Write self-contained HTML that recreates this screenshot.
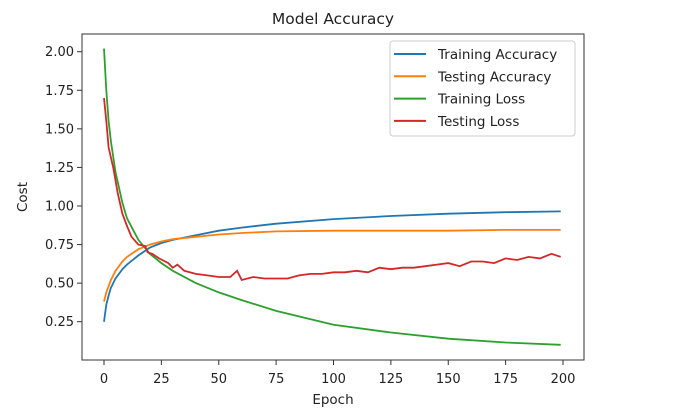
<!DOCTYPE html>
<html><head><meta charset="utf-8"><style>
html,body{margin:0;padding:0;background:#fff;}
svg{display:block;font-family:"DejaVu Sans","Liberation Sans",sans-serif;}
</style></head><body>
<svg id="chart" width="684" height="418" viewBox="0 0 684 418" xmlns="http://www.w3.org/2000/svg">
<text x="333" y="24" text-anchor="middle" font-size="15.5" fill="#222">Model Accuracy</text>
<g id="plot"></g>
<rect x="82" y="34" width="502" height="326" fill="none" stroke="#333" stroke-width="1"/>
<g id="xticks"></g>
<g id="yticks"></g>
<text x="333" y="404" text-anchor="middle" font-size="13.5" fill="#222">Epoch</text>
<text x="27" y="197" text-anchor="middle" font-size="13.5" fill="#222" transform="rotate(-90 27 197)">Cost</text>
<g id="legend"></g>
</svg>
<script>
const xTicks=[0,25,50,75,100,125,150,175,200];
const yTicks=[0.25,0.50,0.75,1.00,1.25,1.50,1.75,2.00];
const seriesNames=["Training Accuracy","Testing Accuracy","Training Loss","Testing Loss"];
const trainAccEpochs=[0,1,2,3,5,8,10,15,20,25,30,40,50,60,75,100,125,150,175,199];
const trainAcc=[0.25,0.36,0.42,0.47,0.53,0.59,0.62,0.68,0.73,0.76,0.78,0.81,0.84,0.86,0.885,0.915,0.935,0.95,0.96,0.965];
const testAccEpochs=[0,1,3,5,8,10,15,20,25,30,40,50,60,75,100,125,150,175,199];
const testAcc=[0.38,0.44,0.52,0.58,0.64,0.67,0.72,0.75,0.77,0.785,0.80,0.815,0.825,0.835,0.84,0.84,0.84,0.845,0.845];
const trainLossEpochs=[0,1,2,3,5,8,10,15,20,25,30,40,50,60,75,100,125,150,175,199];
const trainLoss=[2.02,1.75,1.55,1.42,1.22,1.02,0.92,0.78,0.69,0.63,0.58,0.50,0.44,0.39,0.32,0.23,0.18,0.14,0.115,0.10];
const testLossEpochs=[0,1,2,4,6,8,10,12,15,18,19,21,24,28,30,32,35,40,45,50,55,58,60,65,70,75,80,85,90,95,100,105,110,115,120,125,130,135,140,145,150,155,160,165,170,175,180,185,190,195,199];
const testLoss=[1.70,1.55,1.38,1.25,1.08,0.95,0.87,0.80,0.75,0.74,0.70,0.69,0.66,0.63,0.60,0.62,0.58,0.56,0.55,0.54,0.54,0.58,0.52,0.54,0.53,0.53,0.53,0.55,0.56,0.56,0.57,0.57,0.58,0.57,0.60,0.59,0.60,0.60,0.61,0.62,0.63,0.61,0.64,0.64,0.63,0.66,0.65,0.67,0.66,0.69,0.67];
const colors=["#1f77b4","#ff7f0e","#2ca02c","#d62728"];
const NS="http://www.w3.org/2000/svg";
function xs(v){return 104+v*(563-104)/200;}
function ys(v){return 321.7-(v-0.25)*(321.7-51.7)/1.75;}
const plot=document.getElementById('plot');
const all=[[trainAccEpochs,trainAcc],[testAccEpochs,testAcc],[trainLossEpochs,trainLoss],[testLossEpochs,testLoss]];
const sNames=['training-accuracy-line','testing-accuracy-line','training-loss-line','testing-loss-line'];
all.forEach((s,i)=>{
  const p=document.createElementNS(NS,'polyline');
  
  
  p.setAttribute('points',s[0].map((e,j)=>xs(e).toFixed(1)+','+ys(s[1][j]).toFixed(1)).join(' '));
  p.setAttribute('fill','none');p.setAttribute('stroke',colors[i]);p.setAttribute('stroke-width','1.8');
  plot.appendChild(p);
});
const xg=document.getElementById('xticks');
xTicks.forEach(t=>{
  const l=document.createElementNS(NS,'line');
  
  
  l.setAttribute('x1',xs(t));l.setAttribute('x2',xs(t));l.setAttribute('y1',360);l.setAttribute('y2',365);l.setAttribute('stroke','#333');
  xg.appendChild(l);
  const tx=document.createElementNS(NS,'text');
  
  
  tx.setAttribute('x',xs(t));tx.setAttribute('y',383);tx.setAttribute('text-anchor','middle');tx.setAttribute('font-size','13');tx.setAttribute('fill','#222');
  tx.textContent=t;xg.appendChild(tx);
});
const yg=document.getElementById('yticks');
yTicks.forEach(t=>{
  const l=document.createElementNS(NS,'line');
  
  
  l.setAttribute('x1',77);l.setAttribute('x2',82);l.setAttribute('y1',ys(t));l.setAttribute('y2',ys(t));l.setAttribute('stroke','#333');
  yg.appendChild(l);
  const tx=document.createElementNS(NS,'text');
  
  
  tx.setAttribute('x',74);tx.setAttribute('y',ys(t)+4.5);tx.setAttribute('text-anchor','end');tx.setAttribute('font-size','13');tx.setAttribute('fill','#222');
  tx.textContent=t.toFixed(2);yg.appendChild(tx);
});
const lg=document.getElementById('legend');
const box=document.createElementNS(NS,'rect');


box.setAttribute('x',390);box.setAttribute('y',41);box.setAttribute('width',185);box.setAttribute('height',95);box.setAttribute('rx',3);
box.setAttribute('fill','#fff');box.setAttribute('fill-opacity','0.8');box.setAttribute('stroke','#ccc');
lg.appendChild(box);
seriesNames.forEach((n,i)=>{
  const y=54+i*22.3;
  const l=document.createElementNS(NS,'line');
  
  
  l.setAttribute('x1',394);l.setAttribute('x2',426);l.setAttribute('y1',y);l.setAttribute('y2',y);l.setAttribute('stroke',colors[i]);l.setAttribute('stroke-width','2');
  lg.appendChild(l);
  const tx=document.createElementNS(NS,'text');
  
  
  tx.setAttribute('x',438);tx.setAttribute('y',y+5);tx.setAttribute('font-size','13.5');tx.setAttribute('fill','#222');
  tx.textContent=n;lg.appendChild(tx);
});
</script>
</body></html>
